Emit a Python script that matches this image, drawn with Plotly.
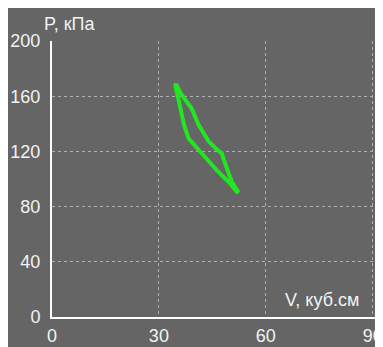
import plotly.graph_objects as go

# Loop data (V in cm^3, P in kPa)
v_upper = [34.8, 35.9, 37.5, 39.2, 41.1, 43.9, 46.0, 47.7, 48.1, 49.1, 50.5, 52.3]
p_upper = [169.1, 163.0, 157.0, 151.0, 139.5, 127.5, 122.0, 118.4, 114.8, 107.5, 97.8, 90.6]
v_lower = [51.9, 50.0, 46.3, 42.5, 38.8, 38.3, 37.1, 36.4, 35.4, 34.6, 34.8]
p_lower = [90.6, 96.7, 106.3, 117.2, 128.0, 129.5, 138.9, 146.2, 157.0, 167.9, 169.1]

x_ticks = [0, 30, 60, 90]
y_ticks = [0, 40, 80, 120, 160, 200]

bg = "#656565"
font_col = "#f2f2f2"

fig = go.Figure()
fig.add_trace(go.Scatter(
    x=v_upper + v_lower, y=p_upper + p_lower, mode="lines",
    line=dict(color="#22e622", width=4), hoverinfo="skip", showlegend=False,
))

fig.update_layout(
    width=375, height=339,
    margin=dict(l=44, r=0, t=33, b=30, pad=0),
    paper_bgcolor=bg, plot_bgcolor=bg,
    font=dict(family="Liberation Sans, Arial, sans-serif", size=18, color=font_col),
    xaxis=dict(range=[0, 92.9], tickvals=x_ticks, ticktext=[str(t) for t in x_ticks],
               showgrid=True, gridcolor="#b0b0b0", griddash="dot", gridwidth=1,
               showline=True, linecolor="white", linewidth=2, zeroline=False,
               ticks="", ticklabelstandoff=1, automargin=False, fixedrange=True),
    yaxis=dict(range=[0, 200], tickvals=y_ticks, ticktext=[str(t) for t in y_ticks],
               showgrid=True, gridcolor="#b0b0b0", griddash="dot", gridwidth=1,
               showline=True, linecolor="white", linewidth=2, zeroline=False,
               ticks="", ticklabelstandoff=6, automargin=False, fixedrange=True),
    annotations=[
        dict(text="P, кПа", xref="paper", yref="paper", x=(42 - 52) / 331, y=(316.7 - 23.5) / 276,
             xanchor="left", yanchor="middle", showarrow=False, font=dict(size=18, color=font_col)),
        dict(text="V, куб.см", xref="paper", yref="paper", x=(361 - 52) / 331, y=(316.7 - 300) / 276,
             xanchor="right", yanchor="middle", showarrow=False, font=dict(size=18, color=font_col)),
    ],
)

fig.write_html("out.html", config={"displayModeBar": False})
